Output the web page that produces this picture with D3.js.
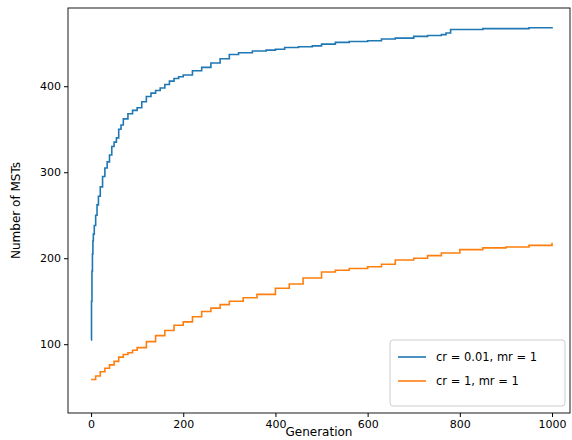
<!DOCTYPE html>
<html><head><meta charset="utf-8">
<script src="https://cdn.jsdelivr.net/npm/d3@7"></script>
<style>body{margin:0;background:#fff}text{font-family:"DejaVu Sans",sans-serif}</style>
</head><body><svg id="c" width="572" height="440"></svg>
<script>
const blueGen = [0,1,2,3,4,5,7,10,13,16,20,25,30,35,40,45,50,55,60,65,70,80,90,100,110,120,130,140,150,160,170,180,190,200,220,240,260,280,300,320,350,380,400,420,450,480,500,530,560,600,630,660,700,730,760,770,780,800,850,900,950,1000];
const blueVal = [105,150,185,205,220,228,238,250,262,272,283,295,305,312,320,330,335,340,350,355,362,368,372,375,382,388,392,395,398,402,406,409,411,413,418,422,427,432,437,439,441,442,443,445,446,447,449,451,452,453,455,456,458,459,460,462,466,466,467,467,468,469];
const orangeGen = [0,10,20,30,40,50,60,70,80,90,100,120,140,160,180,200,220,240,260,280,300,330,360,400,430,460,500,530,560,600,630,660,700,730,760,800,850,900,950,1000];
const orangeVal = [59,63,68,72,76,80,85,88,90,93,96,103,110,116,122,126,132,138,142,146,150,154,158,165,170,177,184,186,188,190,193,198,200,203,206,210,212,213,215,218];
const xTicks = [0,200,400,600,800,1000];
const yTicks = [100,200,300,400];
const series = [
  {name:"cr = 0.01, mr = 1", gen:blueGen, val:blueVal, color:"#1f77b4"},
  {name:"cr = 1, mr = 1", gen:orangeGen, val:orangeVal, color:"#ff7f0e"}
];

const svg = d3.select("#c");
const L=68,R=570,T=8,B=413;
const x = d3.scaleLinear().domain([-50,1039]).range([L,R]);
const y = d3.scaleLinear().domain([20,491]).range([B,T]);

svg.append("g").attr("transform",`translate(0,${B})`)
  .call(d3.axisBottom(x).tickValues(xTicks).tickFormat(d3.format("d")).tickSize(4).tickPadding(3))
  .call(g=>g.select(".domain").remove())
  .selectAll("text").attr("font-size",11).attr("fill","#000");
svg.append("g").attr("transform",`translate(${L},0)`)
  .call(d3.axisLeft(y).tickValues(yTicks).tickSize(4).tickPadding(3))
  .call(g=>g.select(".domain").remove())
  .selectAll("text").attr("font-size",11).attr("fill","#000");

const line = d3.line().curve(d3.curveStepAfter);
series.forEach(s=>{
  svg.append("path")
    .attr("d", line(s.gen.map((g,i)=>[x(g), y(s.val[i])])))
    .attr("fill","none").attr("stroke",s.color).attr("stroke-width",1.6);
});

svg.append("rect").attr("x",L).attr("y",T).attr("width",R-L).attr("height",B-T)
  .attr("fill","none").attr("stroke","#000").attr("stroke-width",0.9);

svg.append("text").attr("x",(L+R)/2).attr("y",436).attr("text-anchor","middle").attr("font-size",12).text("Generation");
svg.append("text").attr("transform",`translate(20,${(T+B)/2}) rotate(-90)`).attr("text-anchor","middle").attr("font-size",12).text("Number of MSTs");

const lg = svg.append("g").attr("transform","translate(390,340)");
lg.append("rect").attr("width",175).attr("height",66).attr("rx",3)
  .attr("fill","#fff").attr("fill-opacity",0.8).attr("stroke","#ccc");
series.forEach((s,i)=>{
  const yy = 17+i*24;
  lg.append("line").attr("x1",8).attr("x2",36).attr("y1",yy).attr("y2",yy).attr("stroke",s.color).attr("stroke-width",1.6);
  lg.append("text").attr("x",46).attr("y",yy+4).attr("font-size",11.5).text(s.name);
});
</script></body></html>
